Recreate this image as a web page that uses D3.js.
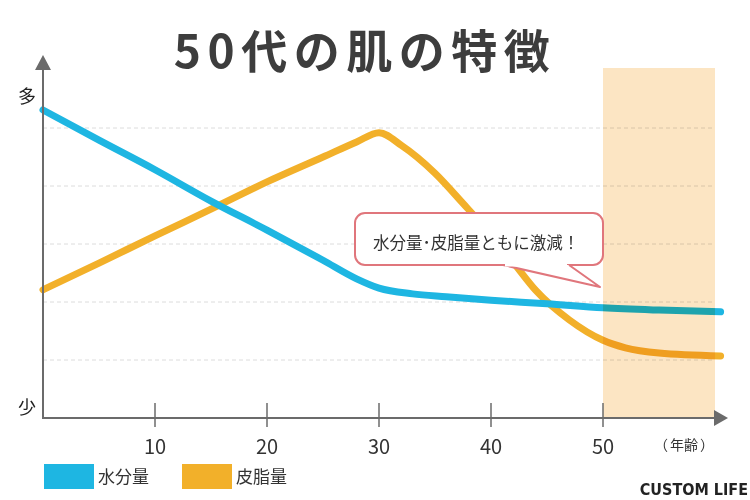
<!DOCTYPE html>
<head>
<meta charset="utf-8">
<title>50代の肌の特徴</title>
<script src="https://cdn.jsdelivr.net/npm/d3@7/dist/d3.min.js"></script>
<style>
	body { margin: 0; background: #fff; }
	text { font-family: "Noto Sans CJK JP", "Noto Sans", sans-serif; }
</style>
</head>

<body>
<script>
var width = 750;
var height = 500;

// data (value units: one per grid line)
var waterAges = [0, 5, 10, 15, 20, 25, 28, 30, 33, 36, 40, 45, 50, 55, 60.5];
var waterVals = [5.31, 4.79, 4.28, 3.74, 3.24, 2.72, 2.40, 2.24, 2.14, 2.09, 2.03, 1.97, 1.90, 1.86, 1.83];
var oilAges = [0, 5, 10, 15, 20, 25, 28, 30, 32, 35, 37.5, 40, 42, 44, 47, 50, 52, 55, 60.5];
var oilVals = [2.21, 2.67, 3.14, 3.60, 4.07, 4.50, 4.76, 4.92, 4.70, 4.22, 3.70, 3.16, 2.68, 2.20, 1.69, 1.34, 1.21, 1.12, 1.07];
var xTicks = [10, 20, 30, 40, 50];
var gridVals = [1, 2, 3, 4, 5];
var highlight = [50, 60];
var seriesNames = ["水分量", "皮脂量"];
var seriesColors = ["#1eb6e2", "#f2b02a"];

var svg = d3.select('body').append("svg")
	.attr("width", width)
	.attr("height", height);

var x = d3.scaleLinear().domain([0, 60]).range([43, 715]);
var y = d3.scaleLinear().domain([0, 6]).range([418, 70]);

// title
svg.append("text")
	.attr("x", 365).attr("y", 68)
	.attr("text-anchor", "middle")
	.style("font-size", "46px")
	.style("font-weight", "bold")
	.style("letter-spacing", "6.5px")
	.style("fill", "#3d3d3d")
	.text("50代の肌の特徴");

// dashed grid
svg.selectAll(".grid").data(gridVals).enter().append("line")
	.attr("x1", x(0)).attr("x2", x(60))
	.attr("y1", function(d) { return y(d); })
	.attr("y2", function(d) { return y(d); })
	.style("stroke", "#dcdcdc")
	.style("stroke-width", 1)
	.style("stroke-dasharray", "4,3");

// lines
var line = d3.line()
	.x(function(d) { return x(d[0]); })
	.y(function(d) { return y(d[1]); })
	.curve(d3.curveMonotoneX);

svg.append("path")
	.datum(oilAges.map(function(a, i) { return [a, oilVals[i]]; }))
	.attr("d", line)
	.style("fill", "none")
	.style("stroke", seriesColors[1])
	.style("stroke-width", 7)
	.style("stroke-linecap", "round");

svg.append("path")
	.datum(waterAges.map(function(a, i) { return [a, waterVals[i]]; }))
	.attr("d", line)
	.style("fill", "none")
	.style("stroke", seriesColors[0])
	.style("stroke-width", 7)
	.style("stroke-linecap", "round");

// 50s highlight band, multiplied over the lines
svg.append("rect")
	.attr("x", x(highlight[0]))
	.attr("y", 68)
	.attr("width", x(highlight[1]) - x(highlight[0]))
	.attr("height", y(0) - 68)
	.style("fill", "#fce5c3")
	.style("mix-blend-mode", "multiply");

// axes
var axisColor = "#6b6b6b";
svg.append("line")
	.attr("x1", x(0)).attr("x2", 716)
	.attr("y1", y(0)).attr("y2", y(0))
	.style("stroke", axisColor).style("stroke-width", 2);
svg.append("path")
	.attr("d", "M728," + y(0) + "L714," + (y(0) - 8) + "L714," + (y(0) + 8) + "Z")
	.style("fill", axisColor);
svg.append("line")
	.attr("x1", x(0)).attr("x2", x(0))
	.attr("y1", y(0) + 1).attr("y2", 68)
	.style("stroke", axisColor).style("stroke-width", 2);
svg.append("path")
	.attr("d", "M" + x(0) + ",55L" + (x(0) - 8) + ",70L" + (x(0) + 8) + ",70Z")
	.style("fill", axisColor);

svg.selectAll(".tick").data(xTicks).enter().append("line")
	.attr("x1", function(d) { return x(d); })
	.attr("x2", function(d) { return x(d); })
	.attr("y1", 403).attr("y2", 427)
	.style("stroke", axisColor).style("stroke-width", 1.5);

svg.selectAll(".ticklabel").data(xTicks).enter().append("text")
	.attr("x", function(d) { return x(d); })
	.attr("y", 454)
	.attr("text-anchor", "middle")
	.style("font-size", "20px")
	.style("fill", "#333")
	.text(function(d) { return d; });

var unit = svg.append("text")
	.attr("x", 684).attr("y", 450)
	.attr("text-anchor", "middle")
	.style("font-size", "14px")
	.style("fill", "#333");
unit.append("tspan").text("（");
unit.append("tspan").attr("dx", 2).text("年齢");
unit.append("tspan").attr("dx", 2).text("）");

svg.append("text").attr("x", 27).attr("y", 103)
	.attr("text-anchor", "middle")
	.style("font-size", "18px").style("fill", "#222").text("多");
svg.append("text").attr("x", 27).attr("y", 414)
	.attr("text-anchor", "middle")
	.style("font-size", "18px").style("fill", "#222").text("少");

// speech bubble
var bubble = svg.append("g");
bubble.append("rect")
	.attr("x", 355).attr("y", 213)
	.attr("width", 248).attr("height", 52)
	.attr("rx", 10)
	.style("fill", "#fff")
	.style("stroke", "#e0767c")
	.style("stroke-width", 2);
bubble.append("path")
	.attr("d", "M503,265L600,287L569,265")
	.style("fill", "#fff")
	.style("stroke", "#e0767c")
	.style("stroke-width", 2)
	.style("stroke-linejoin", "round");
bubble.append("line")
	.attr("x1", 505).attr("x2", 567)
	.attr("y1", 265).attr("y2", 265)
	.style("stroke", "#fff").style("stroke-width", 3);
bubble.append("text")
	.attr("x", 476).attr("y", 249)
	.attr("text-anchor", "middle")
	.style("font-size", "16.5px")
	.style("fill", "#333")
	.text("水分量･皮脂量ともに激減！");

// legend
var legend = svg.selectAll(".legend").data(seriesNames).enter().append("g")
	.attr("transform", function(d, i) { return "translate(" + (44 + i * 138) + ",464)"; });
legend.append("rect")
	.attr("width", 50).attr("height", 25)
	.style("fill", function(d, i) { return seriesColors[i]; });
legend.append("text")
	.attr("x", 54).attr("y", 19)
	.style("font-size", "17px")
	.style("fill", "#333")
	.text(function(d) { return d; });

// watermark
svg.append("text")
	.attr("x", 748).attr("y", 495)
	.attr("text-anchor", "end")
	.style("font-family", "'Liberation Sans Narrow', 'DejaVu Sans Condensed', sans-serif")
	.style("font-size", "16px")
	.style("font-weight", "bold")
	.style("fill", "#222")
	.text("CUSTOM LIFE");
</script>
</body>
